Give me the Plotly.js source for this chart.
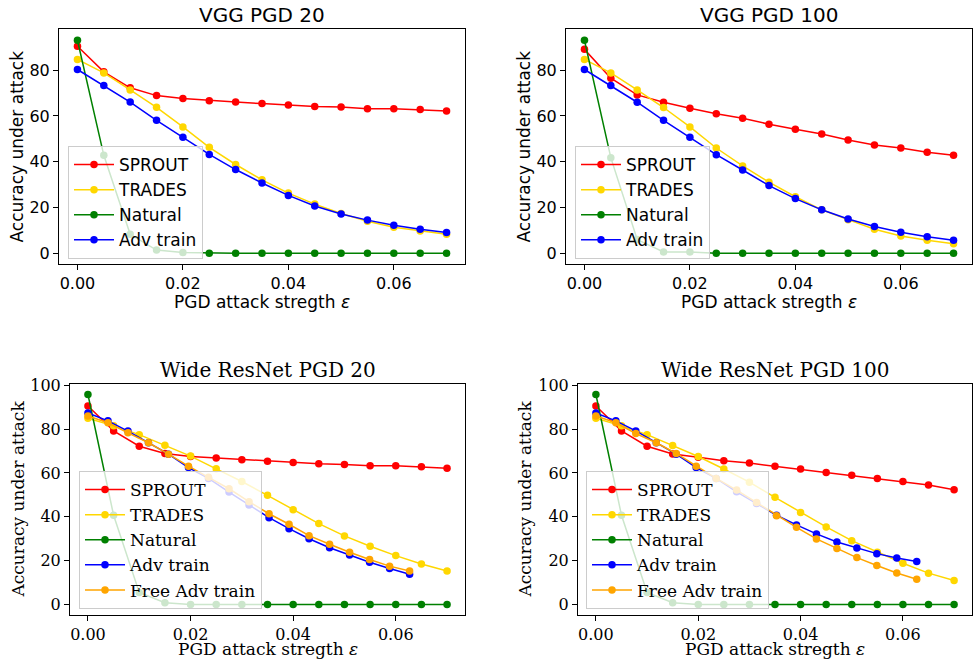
<!DOCTYPE html>
<html><head><meta charset="utf-8">
<script src="https://cdn.plot.ly/plotly-3.0.1.min.js"></script>
<style>html,body{margin:0;padding:0;background:#fff}</style>
</head><body><div id="chart" style="width:978px;height:660px"></div>
<script>
// epsilon grids
const epsA = [0, 0.005, 0.01, 0.015, 0.02, 0.025, 0.03, 0.035, 0.04, 0.045, 0.05, 0.055, 0.06, 0.065, 0.07];
const epsB = [0, 0.0039, 0.0078, 0.0118, 0.0157, 0.0196, 0.0235, 0.0275, 0.0314, 0.0353, 0.0392, 0.0431, 0.0471, 0.0510, 0.0549, 0.0588, 0.0627];

// VGG PGD 20
const vgg20Sprout  = [90.5, 79.3, 72.3, 68.9, 67.6, 66.7, 66.1, 65.4, 64.8, 64.1, 63.9, 63.2, 63.2, 62.8, 62.2];
const vgg20Trades  = [84.7, 78.8, 71.4, 63.8, 55.2, 46.3, 38.8, 32.1, 26.3, 21.5, 17.4, 14.0, 11.4, 9.8, 8.3];
const vgg20Natural = [93.1, 42.8, 8.3, 1.4, 0.3, 0, 0, 0, 0, 0, 0, 0, 0, 0, 0];
const vgg20Adv     = [80.3, 73.3, 66.1, 58.1, 50.7, 43.2, 36.6, 30.7, 25.3, 20.7, 17.2, 14.5, 12.3, 10.5, 9.1];

// VGG PGD 100
const vgg100Sprout  = [89.1, 76.5, 69.2, 66.0, 63.4, 61.0, 59.0, 56.4, 54.2, 52.1, 49.5, 47.3, 46.0, 44.2, 42.8];
const vgg100Trades  = [84.7, 78.8, 71.4, 63.7, 55.2, 46.0, 38.2, 31.1, 24.7, 19.0, 14.7, 10.5, 7.6, 5.7, 4.2];
const vgg100Natural = [93.1, 41.8, 6.0, 0.6, 0.6, 0, 0, 0, 0, 0, 0, 0, 0, 0, 0];
const vgg100Adv     = [80.3, 73.3, 66.0, 58.1, 50.7, 43.1, 36.4, 29.6, 23.9, 19.0, 15.0, 11.7, 9.2, 7.2, 5.7];

// Wide ResNet PGD 20
const wrn20Sprout  = [90.6, 79.2, 72.2, 68.9, 67.5, 66.8, 66.0, 65.4, 64.8, 64.2, 63.9, 63.3, 63.3, 62.8, 62.2];
const wrn20Trades  = [85.0, 81.5, 77.5, 72.7, 67.7, 61.9, 56.1, 49.8, 43.2, 36.9, 31.3, 26.6, 22.3, 18.5, 15.3];
const wrn20Natural = [95.8, 40.7, 5.5, 0.8, 0, 0, 0, 0, 0, 0, 0, 0, 0, 0, 0];
const wrn20Adv     = [87.4, 83.8, 79.1, 73.8, 68.6, 62.5, 57.5, 51.3, 45.4, 39.6, 34.6, 30.0, 25.9, 22.6, 19.3, 16.4, 13.8];
const wrn20Free    = [86.0, 82.9, 78.3, 73.8, 68.6, 63.1, 58.0, 52.8, 46.9, 41.4, 36.6, 31.4, 27.5, 23.8, 20.5, 17.5, 15.3];

// Wide ResNet PGD 100
const wrn100Sprout  = [90.6, 79.2, 72.2, 68.7, 67.2, 65.6, 64.5, 63.1, 61.8, 60.2, 59.0, 57.5, 56.1, 54.5, 52.4];
const wrn100Trades  = [85.0, 81.5, 77.5, 72.5, 67.5, 61.8, 55.8, 48.9, 42.0, 35.4, 29.1, 23.8, 18.8, 14.3, 10.9];
const wrn100Natural = [95.8, 40.7, 5.5, 0.8, 0, 0, 0, 0, 0, 0, 0, 0, 0, 0, 0];
const wrn100Adv     = [87.4, 83.8, 79.2, 73.8, 68.6, 62.5, 57.5, 51.4, 46.1, 40.7, 36.3, 32.2, 28.5, 25.8, 23.2, 21.2, 19.6];
const wrn100Free    = [86.0, 82.9, 78.0, 73.8, 68.9, 63.1, 57.5, 52.2, 46.5, 40.5, 35.2, 29.9, 25.5, 21.4, 17.8, 14.4, 11.5];

const titles = ["VGG PGD 20", "VGG PGD 100", "Wide ResNet PGD 20", "Wide ResNet PGD 100"];
const names = ["SPROUT", "TRADES", "Natural", "Adv train", "Free Adv train"];
const colors = ["#ff0000", "#ffd700", "#008000", "#0000ff", "#ffa500"];

const W = 978, H = 660;
const SANS = "DejaVu Sans", SERIF = "DejaVu Serif";

function tr(x, y, i, ax, lg) {
  return {
    x: x, y: y, name: names[i], type: "scatter", mode: "lines+markers",
    line: {color: colors[i], width: 1.5},
    marker: {color: colors[i], size: 7.5, symbol: "circle"},
    xaxis: "x" + ax, yaxis: "y" + ax, legend: lg
  };
}

const data = [
  tr(epsA, vgg20Sprout, 0, "", "legend"),
  tr(epsA, vgg20Trades, 1, "", "legend"),
  tr(epsA, vgg20Natural, 2, "", "legend"),
  tr(epsA, vgg20Adv, 3, "", "legend"),

  tr(epsA, vgg100Sprout, 0, "2", "legend2"),
  tr(epsA, vgg100Trades, 1, "2", "legend2"),
  tr(epsA, vgg100Natural, 2, "2", "legend2"),
  tr(epsA, vgg100Adv, 3, "2", "legend2"),

  tr(epsA, wrn20Sprout, 0, "3", "legend3"),
  tr(epsA, wrn20Trades, 1, "3", "legend3"),
  tr(epsA, wrn20Natural, 2, "3", "legend3"),
  tr(epsB, wrn20Adv, 3, "3", "legend3"),
  tr(epsB, wrn20Free, 4, "3", "legend3"),

  tr(epsA, wrn100Sprout, 0, "4", "legend4"),
  tr(epsA, wrn100Trades, 1, "4", "legend4"),
  tr(epsA, wrn100Natural, 2, "4", "legend4"),
  tr(epsB, wrn100Adv, 3, "4", "legend4"),
  tr(epsB, wrn100Free, 4, "4", "legend4")
];

// plot frames in pixels [x0, x1, yTop, yBottom]
const frames = [
  [59, 465, 29, 264],
  [566, 972, 29, 264],
  [70, 465, 384, 615],
  [578, 972, 384, 615]
];
const fams = [SANS, SANS, SERIF, SERIF];
const yRanges = [[-4.67, 98.0], [-4.67, 98.0], [-4.8, 100.6], [-4.8, 100.6]];

const layout = {
  width: W, height: H,
  margin: {l: 0, r: 0, t: 0, b: 0},
  paper_bgcolor: "#fff", plot_bgcolor: "#fff",
  showlegend: true,
  annotations: []
};

frames.forEach((f, i) => {
  const s = i === 0 ? "" : String(i + 1);
  const fam = fams[i];
  layout["xaxis" + s] = {
    domain: [f[0] / W, f[1] / W], anchor: "y" + s,
    range: [-0.0035, 0.0735], tick0: 0, dtick: 0.02, tickformat: ".2f",
    showgrid: false, zeroline: false, showline: true, mirror: true,
    linecolor: "#000", linewidth: 1, ticks: "outside", ticklen: 5, tickcolor: "#000",
    tickfont: {family: fam, size: 16, color: "#000"}
  };
  layout["yaxis" + s] = {
    domain: [1 - f[3] / H, 1 - f[2] / H], anchor: "x" + s,
    range: yRanges[i], tick0: 0, dtick: 20,
    showgrid: false, zeroline: false, showline: true, mirror: true,
    linecolor: "#000", linewidth: 1, ticks: "outside", ticklen: 5, tickcolor: "#000",
    tickfont: {family: fam, size: 16, color: "#000"}
  };
  const cx = (f[0] + f[1]) / 2 / W;
  // subplot title
  layout.annotations.push({
    text: titles[i], xref: "paper", yref: "paper", x: cx, y: 1 - (f[2] - 14) / H,
    xanchor: "center", yanchor: "middle", showarrow: false,
    font: {family: fam, size: 20, color: "#000"}
  });
  // x axis title
  const bottomRow = i >= 2;
  layout.annotations.push({
    text: "PGD attack stregth <i>ε</i>", xref: "paper", yref: "paper", x: cx,
    y: bottomRow ? 0 : 1 - (f[3] + 38) / H, xanchor: "center",
    yanchor: bottomRow ? "bottom" : "middle", showarrow: false, borderpad: 0,
    font: {family: fam, size: 17, color: "#000"}
  });
  // y axis title
  layout.annotations.push({
    text: "Accuracy under attack", xref: "paper", yref: "paper",
    x: (i % 2 === 0 ? 17 : 524) / W, y: 1 - (f[2] + f[3]) / 2 / H,
    xanchor: "center", yanchor: "middle", textangle: -90, showarrow: false,
    font: {family: fam, size: 17, color: "#000"}
  });
});

const legPos = [[68, 146], [575, 146], [79, 471], [586, 471]];
["legend", "legend2", "legend3", "legend4"].forEach((k, i) => {
  layout[k] = {
    x: legPos[i][0] / W, y: 1 - legPos[i][1] / H, xanchor: "left", yanchor: "top",
    xref: "paper", yref: "paper",
    bgcolor: "rgba(255,255,255,0.8)", bordercolor: "#cccccc", borderwidth: 1,
    font: {family: fams[i], size: 17, color: "#000"},
    tracegroupgap: 0, itemwidth: 40
  };
});

Plotly.newPlot("chart", data, layout, {displayModeBar: false, staticPlot: true});
</script>
</body></html>
